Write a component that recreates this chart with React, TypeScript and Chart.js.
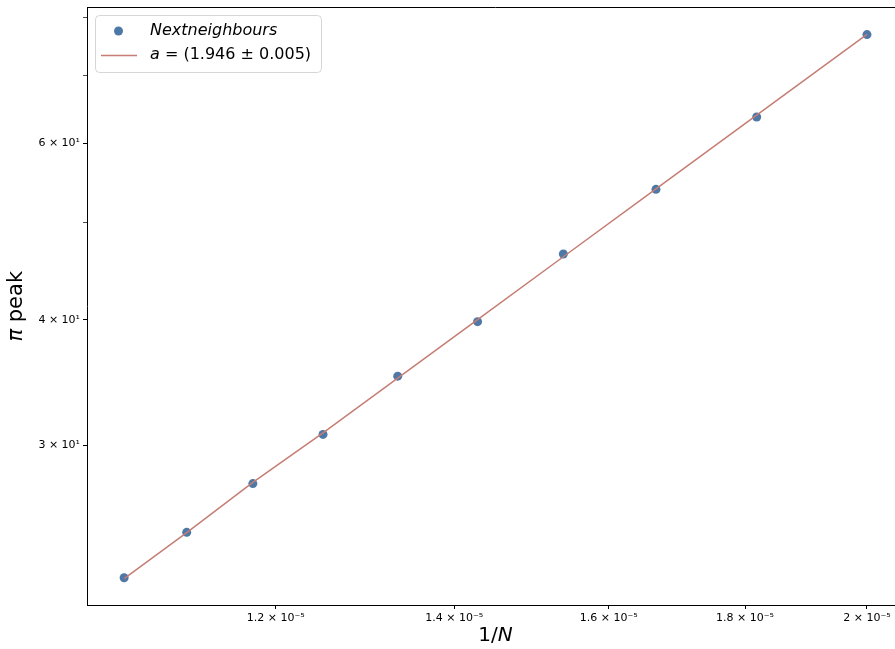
import React, { useEffect, useRef } from "react";
import { Chart, registerables } from "chart.js";

Chart.register(...registerables);

// ---- data ----
const nValues = [95000, 90000, 85000, 80000, 75000, 70000, 65000, 60000, 55000, 50000];
const peakValues = [22.12, 24.55, 27.46, 30.74, 35.14, 39.82, 46.51, 53.95, 63.69, 76.96];
const fitValues = [22.08, 24.54, 27.54, 30.85, 34.98, 40.0, 46.22, 54.02, 63.96, 77.0];

const xTickValues = [1.2e-5, 1.4e-5, 1.6e-5, 1.8e-5, 2e-5];
const xTickLabels = ["1.2 × 10⁻⁵", "1.4 × 10⁻⁵", "1.6 × 10⁻⁵", "1.8 × 10⁻⁵", "2 × 10⁻⁵"];
const yTickValues = [30, 40, 50, 60, 70, 80];
const yTickLabels = ["3 × 10¹", "4 × 10¹", "", "6 × 10¹", "", ""];

const seriesLabel = "Nextneighbours";
const fitLabelItalic = "a";
const fitLabelRest = " = (1.946 ± 0.005)";

const pointColor = "#4e79a7";
const lineColor = "#c57d74";
const FONT = "'DejaVu Sans', sans-serif";

export default function App() {
  const ref = useRef<HTMLCanvasElement | null>(null);

  useEffect(() => {
    const canvas = ref.current;
    if (!canvas) return;

    const framePlugin = {
      id: "framePlugin",
      afterDraw(chart: any) {
        const { ctx, chartArea } = chart;
        ctx.save();
        ctx.strokeStyle = "#000";
        ctx.lineWidth = 1;
        ctx.beginPath();
        ctx.moveTo(chartArea.left, chartArea.top);
        ctx.lineTo(chartArea.right, chartArea.top);
        ctx.moveTo(chartArea.right - 0.5, chartArea.top);
        ctx.lineTo(chartArea.right - 0.5, chartArea.bottom);
        ctx.stroke();

        // axis titles
        ctx.fillStyle = "#000";
        ctx.textBaseline = "middle";
        const xc = (chartArea.left + chartArea.right) / 2;
        ctx.font = `20px ${FONT}`;
        const p1 = "1/";
        const w1 = ctx.measureText(p1).width;
        ctx.font = `italic 20px ${FONT}`;
        const w2 = ctx.measureText("N").width;
        const xs = xc - (w1 + w2) / 2;
        ctx.font = `20px ${FONT}`;
        ctx.textAlign = "left";
        ctx.fillText(p1, xs, 636);
        ctx.font = `italic 20px ${FONT}`;
        ctx.fillText("N", xs + w1, 636);

        const yc = (chartArea.top + chartArea.bottom) / 2;
        ctx.translate(17, yc);
        ctx.rotate(-Math.PI / 2);
        ctx.font = `italic 21px ${FONT}`;
        const wp = ctx.measureText("π").width;
        ctx.font = `21px ${FONT}`;
        const wr = ctx.measureText(" peak").width;
        const ys = -(wp + wr) / 2;
        ctx.font = `italic 21px ${FONT}`;
        ctx.fillText("π", ys, 0);
        ctx.font = `21px ${FONT}`;
        ctx.fillText(" peak", ys + wp, 0);
        ctx.restore();

        // legend
        ctx.save();
        const bx = 95.5, by = 15.5, bw = 226, bh = 57, r = 4;
        ctx.beginPath();
        ctx.moveTo(bx + r, by);
        ctx.lineTo(bx + bw - r, by);
        ctx.arcTo(bx + bw, by, bx + bw, by + r, r);
        ctx.lineTo(bx + bw, by + bh - r);
        ctx.arcTo(bx + bw, by + bh, bx + bw - r, by + bh, r);
        ctx.lineTo(bx + r, by + bh);
        ctx.arcTo(bx, by + bh, bx, by + bh - r, r);
        ctx.lineTo(bx, by + r);
        ctx.arcTo(bx, by, bx + r, by, r);
        ctx.closePath();
        ctx.fillStyle = "rgba(255,255,255,0.8)";
        ctx.fill();
        ctx.strokeStyle = "rgba(204,204,204,0.8)";
        ctx.lineWidth = 1;
        ctx.stroke();

        ctx.fillStyle = pointColor;
        ctx.beginPath();
        ctx.arc(118.5, 31, 4.5, 0, Math.PI * 2);
        ctx.fill();

        ctx.strokeStyle = lineColor;
        ctx.lineWidth = 1.5;
        ctx.beginPath();
        ctx.moveTo(101, 55.5);
        ctx.lineTo(137, 55.5);
        ctx.stroke();

        ctx.fillStyle = "#000";
        ctx.textBaseline = "middle";
        ctx.textAlign = "left";
        ctx.font = `italic 16px ${FONT}`;
        ctx.fillText(seriesLabel, 150, 31);
        const wa = ctx.measureText(fitLabelItalic).width;
        ctx.fillText(fitLabelItalic, 150, 55);
        ctx.font = `16px ${FONT}`;
        ctx.fillText(fitLabelRest, 150 + wa, 55);
        ctx.restore();
      },
    };

    const xData = nValues.map((n) => 1 / n);

    const chart = new Chart(canvas, {
      type: "scatter",
      data: {
        datasets: [
          {
            type: "line",
            label: "fit",
            data: xData.map((x, i) => ({ x, y: fitValues[i] })),
            borderColor: lineColor,
            borderWidth: 1.5,
            pointRadius: 0,
            fill: false,
            order: 0,
          } as any,
          {
            type: "scatter",
            label: seriesLabel,
            data: xData.map((x, i) => ({ x, y: peakValues[i] })),
            backgroundColor: pointColor,
            borderColor: pointColor,
            pointRadius: 4.5,
            borderWidth: 0,
            order: 1,
          },
        ],
      },
      options: {
        responsive: false,
        animation: false,
        devicePixelRatio: 1,
        layout: { padding: { top: 7.5, right: 8, left: 0, bottom: 0 } },
        plugins: { legend: { display: false }, tooltip: { enabled: false } },
        scales: {
          x: {
            type: "logarithmic",
            min: 1.0194e-5,
            max: 2.065e-5,
            bounds: "data",
            afterBuildTicks: (scale: any) => {
              scale.ticks = xTickValues.map((v) => ({ value: v }));
            },
            afterFit: (scale: any) => {
              scale.height = 44;
              scale.paddingLeft = 0;
              scale.paddingRight = 0;
            },
            ticks: {
              autoSkip: false,
              maxRotation: 0,
              minRotation: 0,
              color: "#000",
              padding: 3,
              font: { family: FONT, size: 11 },
              callback: (_v: any, i: number) => xTickLabels[i],
            },
            grid: {
              display: true,
              drawOnChartArea: false,
              drawTicks: true,
              tickLength: 4,
              tickColor: "#000",
              tickWidth: 1,
            },
            border: { display: true, color: "#000", width: 1 },
          },
          y: {
            type: "logarithmic",
            min: 20.78,
            max: 81.9,
            bounds: "data",
            afterBuildTicks: (scale: any) => {
              scale.ticks = yTickValues.map((v) => ({ value: v }));
            },
            afterFit: (scale: any) => {
              scale.width = 87;
              scale.paddingTop = 0;
              scale.paddingBottom = 0;
            },
            ticks: {
              autoSkip: false,
              color: "#000",
              padding: 3,
              font: { family: FONT, size: 11 },
              callback: (_v: any, i: number) => yTickLabels[i],
            },
            grid: {
              display: true,
              drawOnChartArea: false,
              drawTicks: true,
              tickLength: 4,
              tickColor: "#000",
              tickWidth: (ctx: any) => (yTickLabels[ctx.index] ? 1 : 0.7),
            },
            border: { display: true, color: "#000", width: 1 },
          },
        },
      },
      plugins: [framePlugin],
    });

    return () => chart.destroy();
  }, []);

  return (
    <div
      style={{
        position: "fixed",
        left: 0,
        top: 0,
        width: 895,
        height: 649,
        overflow: "hidden",
        background: "#fff",
      }}
    >
      <canvas ref={ref} width={912} height={649} style={{ display: "block" }} />
    </div>
  );
}
